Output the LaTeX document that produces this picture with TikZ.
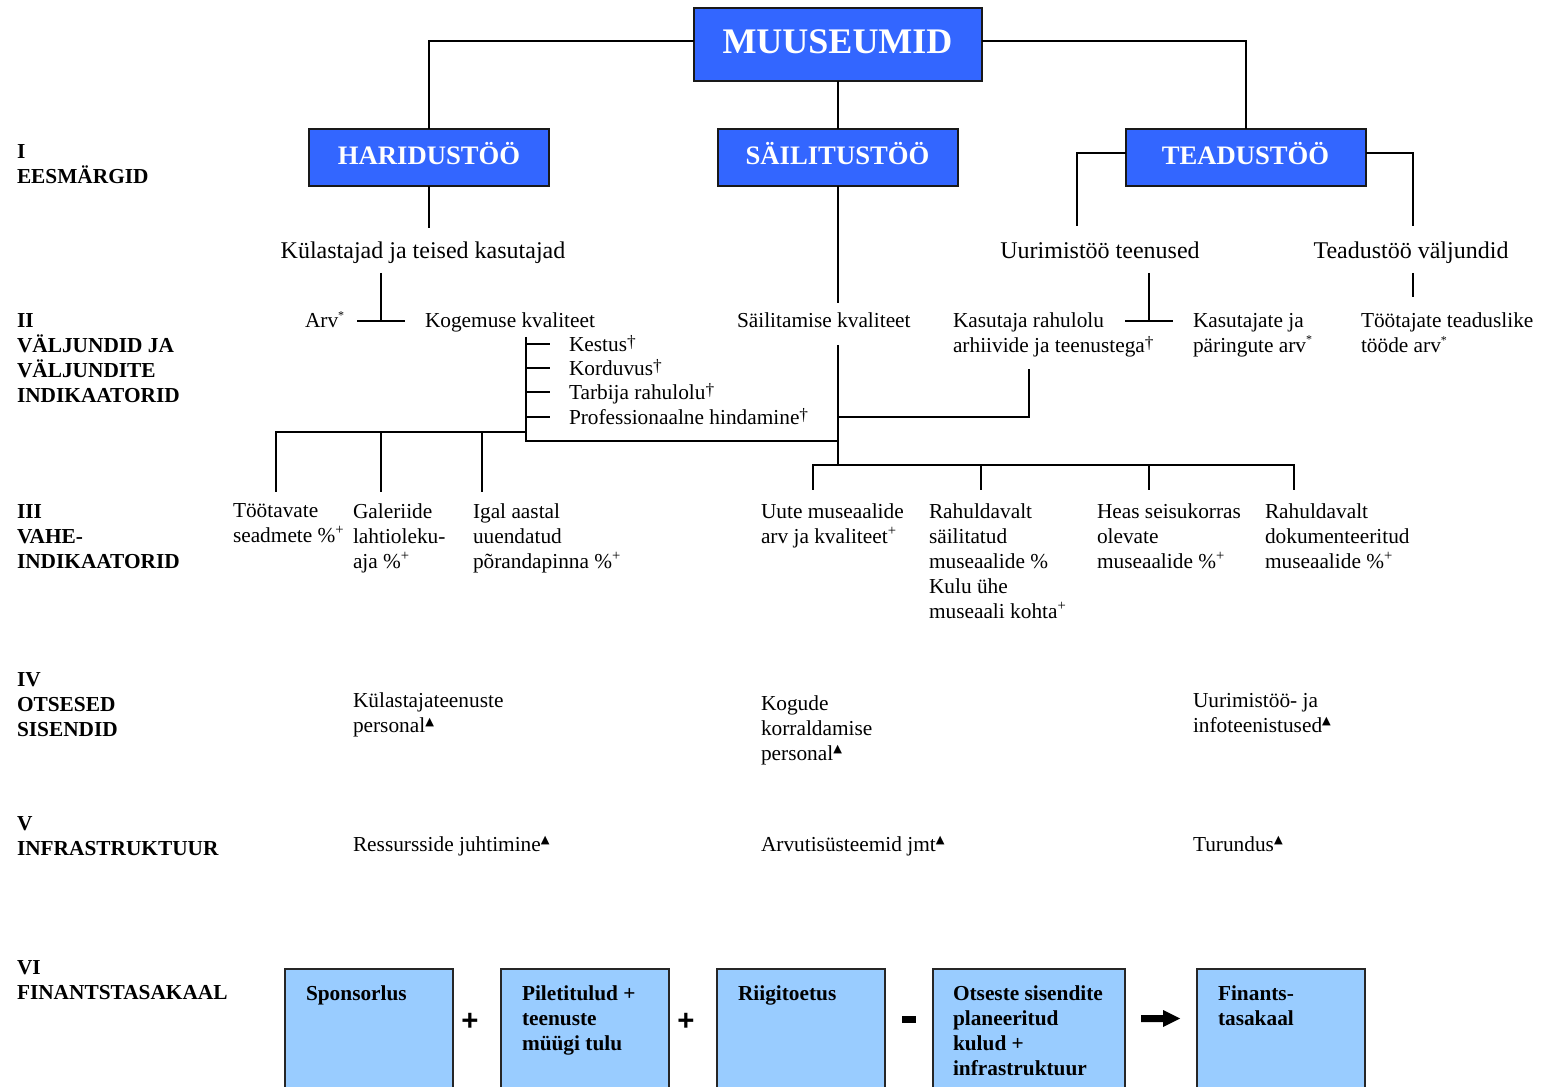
\documentclass[tikz,border=0pt]{standalone}
\usepackage{fontspec}
\setmainfont{Liberation Serif}
\newfontfamily\symfont{DejaVu Sans}
\newfontfamily\opfont{Liberation Sans}
\definecolor{boxblue}{RGB}{51,102,255}
\definecolor{lightblue}{RGB}{153,204,255}
\newcommand\mstar{\raisebox{0.38em}{\fontsize{9}{9}\selectfont *}}
\newcommand\mdag{\raisebox{0.22em}{\fontsize{13}{13}\selectfont †}}
\newcommand\mplus{\raisebox{0.4em}{\fontsize{11}{11}\selectfont +}}
\newcommand\mtri{\raisebox{0.36em}{\symfont\fontsize{8.5}{8.5}\selectfont ▲}}
\tikzset{
  conn/.style={line width=1.5pt},
  bluebox/.style={draw=black!90, line width=1.5pt, fill=boxblue, text=white, inner sep=0pt, outer sep=0pt, text depth=0pt},
  lbox/.style={draw=black!85, line width=1.2pt, fill=lightblue, inner sep=0pt, outer sep=0pt, anchor=north west, minimum height=100pt},
  txt/.style={anchor=north west, inner sep=0pt, outer sep=0pt, align=left, font=\fontsize{16}{18.7}\selectfont},
  stxt/.style={anchor=base west, inner sep=0pt, outer sep=0pt, font=\fontsize{16}{18.7}\selectfont},
  subt/.style={anchor=base, inner sep=0pt, outer sep=0pt, font=\fontsize{18}{21}\selectfont},
  lab/.style={txt, font=\fontsize{16}{18.7}\selectfont\bfseries},
  btxt/.style={txt, font=\fontsize{16}{18.7}\selectfont\bfseries},
  op/.style={inner sep=0pt, font=\opfont\bfseries\fontsize{22}{22}\selectfont}
}
\begin{document}
\begin{tikzpicture}[x=0.75pt, y=-0.75pt]
\useasboundingbox (0,0) rectangle (1543,1087);
\clip (0,0) rectangle (1543,1087);
\fill[white] (0,0) rectangle (1543,1087);

% Level I boxes
\node[bluebox, minimum width=216pt, minimum height=54.75pt, text height=14.25pt, font=\fontsize{27}{30}\selectfont\bfseries] (mus) at (837.5,44.5) {MUUSEUMID};
\node[bluebox, minimum width=180pt, minimum height=42.75pt, text height=11.25pt, font=\fontsize{20}{22}\selectfont\bfseries] (har) at (429,157.5) {HARIDUSTÖÖ};
\node[bluebox, minimum width=180pt, minimum height=42.75pt, text height=11.25pt, font=\fontsize{20}{22}\selectfont\bfseries] (sai) at (837.5,157.5) {SÄILITUSTÖÖ};
\node[bluebox, minimum width=180pt, minimum height=42.75pt, text height=11.25pt, font=\fontsize{20}{22}\selectfont\bfseries] (tea) at (1245.5,157.5) {TEADUSTÖÖ};

% left labels
\node[lab] (l1) at (17,145) {I\\EESMÄRGID};
\node[lab] (l2) at (17,314) {II\\VÄLJUNDID JA\\VÄLJUNDITE\\INDIKAATORID};
\node[lab] (l3) at (17,505) {III\\VAHE-\\INDIKAATORID};
\node[lab] (l4) at (17,673) {IV\\OTSESED\\SISENDID};
\node[lab] (l5) at (17,817) {V\\INFRASTRUKTUUR};
\node[lab] (l6) at (17,961) {VI\\FINANTSTASAKAAL};

% sub-goals
\node[subt] (kul) at (423,259) {Külastajad ja teised kasutajad};
\node[subt] (uur) at (1100,259) {Uurimistöö teenused};
\node[subt] (tvl) at (1411,259) {Teadustöö väljundid};

% level II
\node[stxt] (arv) at (305,328) {Arv\mstar};
\node[stxt] (kog) at (425,328) {Kogemuse kvaliteet};
\node[stxt] (sak) at (737,328) {Säilitamise kvaliteet};
\node[txt] (kas) at (953,313) {Kasutaja rahulolu\\arhiivide ja teenustega\mdag};
\node[txt] (kpa) at (1193,313) {Kasutajate ja\\päringute arv\mstar};
\node[txt] (tto) at (1361,313) {Töötajate teaduslike\\tööde arv\mstar};
\node[stxt] (kes) at (569,352) {Kestus\mdag};
\node[stxt] (kor) at (569,376) {Korduvus\mdag};
\node[stxt] (tar) at (569,400) {Tarbija rahulolu\mdag};
\node[stxt] (pro) at (569,425) {Professionaalne hindamine\mdag};

% level III
\node[txt] (a1) at (233,504) {Töötavate\\seadmete \%\mplus};
\node[txt] (a2) at (353,504) {Galeriide\\lahtioleku-\\aja \%\mplus};
\node[txt] (a3) at (473,504) {Igal aastal\\uuendatud\\põrandapinna \%\mplus};
\node[txt] (a4) at (761,504) {Uute museaalide\\arv ja kvaliteet\mplus};
\node[txt] (a5) at (929,504) {Rahuldavalt\\säilitatud\\museaalide \%\\Kulu ühe\\museaali kohta\mplus};
\node[txt] (a6) at (1097,504) {Heas seisukorras\\olevate\\museaalide \%\mplus};
\node[txt] (a7) at (1265,504) {Rahuldavalt\\dokumenteeritud\\museaalide \%\mplus};

% level IV
\node[txt] (i1) at (353,693) {Külastajateenuste\\personal\mtri};
\node[txt] (i2) at (761,696) {Kogude\\korraldamise\\personal\mtri};
\node[txt] (i3) at (1193,693) {Uurimistöö- ja\\infoteenistused\mtri};

% level V
\node[stxt] (v1) at (353,851) {Ressursside juhtimine\mtri};
\node[stxt] (v2) at (761,851) {Arvutisüsteemid jmt\mtri};
\node[stxt] (v3) at (1193,851) {Turundus\mtri};

% connectors level I
\draw[conn] ([yshift=2.6pt]mus.west) -| (har.north);
\draw[conn] ([yshift=2.6pt]mus.east) -| (tea.north);
\draw[conn] (mus.south) -- (sai.north);
\draw[conn] (har.south) -- ++(0,42);
\draw[conn] ([yshift=3.4pt]tea.west) -| (1077,226);
\draw[conn] ([yshift=3.4pt]tea.east) -| (1413,226);

% T junctions
\draw[conn] (381,273) -- (381,321);
\draw[conn] (357,321) -- (405,321);
\draw[conn] (1149,273) -- (1149,321);
\draw[conn] (1125,321) -- (1173,321);
\draw[conn] (1413,273) -- (1413,297);

% Kogemuse tree
\draw[conn] (526,337) -- (526,441) -- (837.5,441);
\foreach \yy in {344,368,392,417} \draw[conn] (526,\yy) -- (550,\yy);
\draw[conn] (526,432) -- (276,432) -- (276,492);
\draw[conn] (381,432) -- (381,492);
\draw[conn] (482,432) -- (482,492);

% Sailitus tree
\draw[conn] (sai.south) -- (837.5,303);
\draw[conn] (837.5,345) -- (837.5,465);
\draw[conn] (837.5,417) -- (1029,417) -- (1029,369);
\draw[conn] (813,490) -- (813,465) -- (1294,465) -- (1294,490);
\draw[conn] (981,465) -- (981,490);
\draw[conn] (1149,465) -- (1149,490);

% bottom boxes
\node[lbox, minimum width=126pt] (b1) at (285,969) {};
\node[lbox, minimum width=126pt] (b2) at (501,969) {};
\node[lbox, minimum width=126pt] (b3) at (717,969) {};
\node[lbox, minimum width=144pt] (b4) at (933,969) {};
\node[lbox, minimum width=126pt] (b5) at (1197,969) {};
\node[btxt] (bt1) at (306,986) {Sponsorlus};
\node[btxt] (bt2) at (522,986) {Piletitulud +\\teenuste\\müügi tulu};
\node[btxt] (bt3) at (738,986) {Riigitoetus};
\node[btxt] (bt4) at (953,986) {Otseste sisendite\\planeeritud\\kulud +\\infrastruktuur};
\node[btxt] (bt5) at (1218,986) {Finants-\\tasakaal};

\node[op] (p1) at (470,1022) {+};
\node[op] (p2) at (686,1022) {+};
\fill (902,1016) rectangle (916,1023);
\fill (1141,1015) -- (1163,1015) -- (1163,1010) -- (1180,1018.5) -- (1163,1027) -- (1163,1022) -- (1141,1022) -- cycle;
\end{tikzpicture}
\end{document}
